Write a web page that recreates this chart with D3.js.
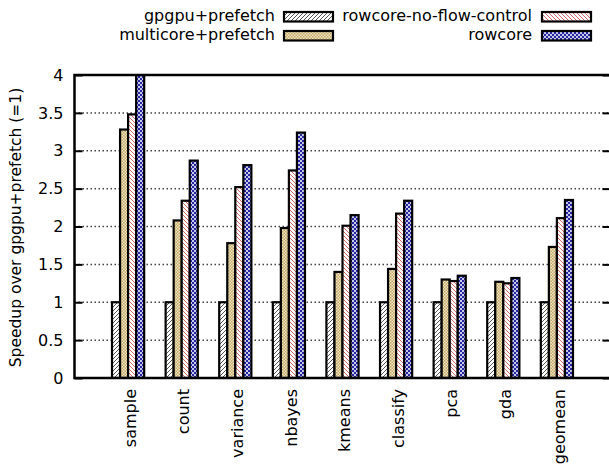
<!DOCTYPE html>
<html>
<head>
<meta charset="utf-8">
<script src="https://cdn.jsdelivr.net/npm/d3@7"></script>
<style>
  html, body { margin: 0; padding: 0; background: #fff; }
  svg { display: block; }
  text { font-family: "DejaVu Sans", sans-serif; fill: #000; }
</style>
</head>
<body>
<svg id="chart" width="609" height="464"></svg>
<script>
// Benchmarks along the x axis
const categories = ["sample", "count", "variance", "nbayes", "kmeans", "classify", "pca", "gda", "geomean"];

// Speedup of each configuration, normalised to gpgpu+prefetch
const gpgpuPrefetch     = [1, 1, 1, 1, 1, 1, 1, 1, 1];
const multicorePrefetch = [3.28, 2.08, 1.78, 1.98, 1.40, 1.44, 1.30, 1.27, 1.73];
const rowcoreNoFlow     = [3.48, 2.34, 2.52, 2.74, 2.01, 2.17, 1.28, 1.25, 2.11];
const rowcore           = [4.00, 2.87, 2.81, 3.24, 2.15, 2.34, 1.35, 1.32, 2.35];

const seriesNames = ["gpgpu+prefetch", "multicore+prefetch", "rowcore-no-flow-control", "rowcore"];
const seriesValues = [gpgpuPrefetch, multicorePrefetch, rowcoreNoFlow, rowcore];

// y axis ticks
const yTicks = [0, 0.5, 1, 1.5, 2, 2.5, 3, 3.5, 4];
const yTickLabels = ["0", "0.5", "1", "1.5", "2", "2.5", "3", "3.5", "4"];

const svg = d3.select("#chart");
const plot = { left: 74.5, right: 610.5, top: 75, bottom: 378 };
const fontSize = "16px";

// --- fill patterns ---
const defs = svg.append("defs");

// diagonal "/" hatch in dark grey
const p0 = defs.append("pattern").attr("id", "pat0").attr("patternUnits", "userSpaceOnUse")
  .attr("width", 4).attr("height", 4);
p0.append("rect").attr("width", 4).attr("height", 4).attr("fill", "#fff");
p0.append("path").attr("d", "M-1,1 L1,-1 M0,4 L4,0 M3,5 L5,3")
  .attr("stroke", "#555").attr("stroke-width", 1);

// tan checker
const p1 = defs.append("pattern").attr("id", "pat1").attr("patternUnits", "userSpaceOnUse")
  .attr("width", 3).attr("height", 3);
p1.append("rect").attr("width", 3).attr("height", 3).attr("fill", "#efe5c4");
p1.append("rect").attr("x", 0).attr("y", 0).attr("width", 1.5).attr("height", 1.5).attr("fill", "#c2a967");
p1.append("rect").attr("x", 1.5).attr("y", 1.5).attr("width", 1.5).attr("height", 1.5).attr("fill", "#c2a967");

// diagonal "\" hatch in light red
const p2 = defs.append("pattern").attr("id", "pat2").attr("patternUnits", "userSpaceOnUse")
  .attr("width", 4).attr("height", 4);
p2.append("rect").attr("width", 4).attr("height", 4).attr("fill", "#fff");
p2.append("path").attr("d", "M-1,3 L1,5 M0,0 L4,4 M3,-1 L5,1")
  .attr("stroke", "#d86a6a").attr("stroke-width", 1);

// blue with white dots
const p3 = defs.append("pattern").attr("id", "pat3").attr("patternUnits", "userSpaceOnUse")
  .attr("width", 4).attr("height", 4);
p3.append("rect").attr("width", 4).attr("height", 4).attr("fill", "#2626a0");
p3.append("circle").attr("cx", 1).attr("cy", 1).attr("r", 1).attr("fill", "#fff");
p3.append("circle").attr("cx", 3).attr("cy", 3).attr("r", 1).attr("fill", "#fff");

const fills = ["url(#pat0)", "url(#pat1)", "url(#pat2)", "url(#pat3)"];

defs.append("clipPath").attr("id", "plotClip").append("rect")
  .attr("x", plot.left).attr("y", plot.top)
  .attr("width", plot.right - plot.left).attr("height", plot.bottom - plot.top);

// --- scales ---
const x = d3.scaleLinear().domain([-1, categories.length]).range([plot.left, plot.right]);
const y = d3.scaleLinear().domain([0, 4]).range([plot.bottom, plot.top]);
const groupWidth = (x(1) - x(0)) * 0.6;
const inner = d3.scaleBand().domain(d3.range(seriesNames.length))
  .range([-groupWidth / 2, groupWidth / 2]).padding(0);

// --- grid lines ---
svg.append("g").selectAll("line").data(yTicks.filter(t => t > 0 && t < 4)).join("line")
  .attr("x1", plot.left).attr("x2", plot.right)
  .attr("y1", d => y(d)).attr("y2", d => y(d))
  .attr("stroke", "#444").attr("stroke-width", 1.5)
  .attr("stroke-dasharray", "1.5,2.5");

// --- bars ---
const bars = [];
seriesValues.forEach((vals, s) => vals.forEach((v, i) => bars.push({ s, i, v })));
svg.append("g").attr("clip-path", "url(#plotClip)")
  .selectAll("rect").data(bars).join("rect")
  .attr("x", d => x(d.i) + inner(d.s))
  .attr("width", inner.bandwidth())
  .attr("y", d => y(d.v))
  .attr("height", d => y(0) - y(d.v))
  .attr("fill", d => fills[d.s])
  .attr("stroke", "#000").attr("stroke-width", 2.2);

// --- axes ---
const yAxisL = d3.axisLeft(y).tickValues(yTicks).tickFormat((d, i) => yTickLabels[i])
  .tickSizeInner(-8).tickSizeOuter(0).tickPadding(11);
const gL = svg.append("g").attr("transform", `translate(${plot.left},0)`).call(yAxisL);
gL.select(".domain").remove();
gL.selectAll(".tick line").attr("stroke", "#000").attr("stroke-width", 2);
gL.selectAll(".tick text").style("font-size", fontSize).style("font-family", "DejaVu Sans");

const yAxisR = d3.axisRight(y).tickValues(yTicks).tickFormat("").tickSizeInner(-8).tickSizeOuter(0);
const gR = svg.append("g").attr("transform", `translate(${plot.right},0)`).call(yAxisR);
gR.select(".domain").remove();
gR.selectAll(".tick line").attr("stroke", "#000").attr("stroke-width", 2);

// x labels, rotated
const xAxis = d3.axisBottom(x).tickValues(d3.range(categories.length))
  .tickFormat(i => categories[i]).tickSize(0).tickPadding(0);
const gX = svg.append("g").attr("transform", `translate(0,${plot.bottom})`).call(xAxis);
gX.select(".domain").remove();
gX.selectAll(".tick text")
  .style("font-size", fontSize).style("font-family", "DejaVu Sans")
  .attr("text-anchor", "end")
  .attr("transform", "rotate(-90)")
  .attr("x", -11).attr("y", 1.5).attr("dy", "0.35em");

// border
svg.append("path")
  .attr("d", `M${plot.right + 2},${plot.top} H${plot.left} V${plot.bottom} H${plot.right + 2}`)
  .attr("fill", "none").attr("stroke", "#000").attr("stroke-width", 2.5);

// y axis title
svg.append("text")
  .attr("transform", `translate(21,${(plot.top + plot.bottom) / 2 + 1}) rotate(-90)`)
  .attr("text-anchor", "middle")
  .style("font-size", "15.5px")
  .text("Speedup over gpgpu+prefetch (=1)");

// --- legend ---
const legendPos = [
  { tx: 275, sx: 284, y: 12 },
  { tx: 275, sx: 284, y: 31 },
  { tx: 532, sx: 542, y: 12 },
  { tx: 532, sx: 542, y: 31 }
];
const leg = svg.append("g").selectAll("g").data(seriesNames).join("g");
leg.append("text")
  .attr("x", (d, i) => legendPos[i].tx)
  .attr("y", (d, i) => legendPos[i].y + 9)
  .attr("text-anchor", "end")
  .style("font-size", fontSize)
  .text(d => d);
leg.append("rect")
  .attr("x", (d, i) => legendPos[i].sx)
  .attr("y", (d, i) => legendPos[i].y)
  .attr("width", 49).attr("height", 9.5)
  .attr("fill", (d, i) => fills[i])
  .attr("stroke", "#000").attr("stroke-width", 2.2);
</script>
</body>
</html>
